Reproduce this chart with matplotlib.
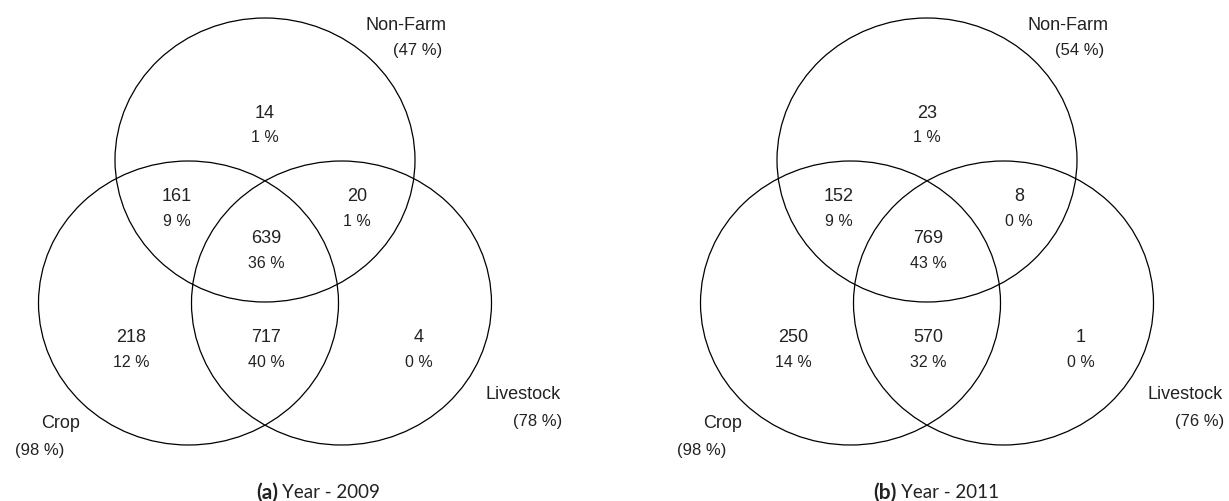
import matplotlib.pyplot as plt
from matplotlib.patches import Ellipse

# Region counts and shares for the three income sources
regions = ['nf_only', 'nf_crop', 'nf_live', 'all', 'crop_only', 'crop_live', 'live_only']

counts_2009 = [14, 161, 20, 639, 218, 717, 4]
shares_2009 = [1, 9, 1, 36, 12, 40, 0]
totals_2009 = {'Non-Farm': 47, 'Crop': 98, 'Livestock': 78}

counts_2011 = [23, 152, 8, 769, 250, 570, 1]
shares_2011 = [1, 9, 0, 43, 14, 32, 0]
totals_2011 = {'Non-Farm': 54, 'Crop': 98, 'Livestock': 76}

captions = [('(a)', 'Year - 2009'), ('(b)', 'Year - 2011')]

# Layout (pixel units, origin top-left)
W, H = 1229, 502
panel_cx = [265, 927]          # x of the top circle centre in each panel
caption_x = [282, 901]         # where "Year - ..." starts
rx, ry = 150, 142
ellipse_off = {'Non-Farm': (0, 0), 'Crop': (-76.5, 143), 'Livestock': (76.5, 143)}
top_cy = 161

region_off = {
    'nf_only': (0, 113),
    'nf_crop': (-88, 197),
    'nf_live': (92, 197),
    'all': (1, 239),
    'crop_only': (-134, 338),
    'crop_live': (1, 338),
    'live_only': (154, 338),
}
set_label_off = {
    'Non-Farm': ((141, 25), (153, 51)),
    'Crop': ((-204, 424), (-225, 451)),
    'Livestock': ((258, 395), (273, 422)),
}

TXT = '#222222'
NUM_FONT = ['Liberation Sans', 'DejaVu Sans']
PCT_FONT = ['Liberation Sans Narrow', 'Liberation Sans', 'DejaVu Sans']
CAP_FONT = ['Lato', 'DejaVu Sans']

fig = plt.figure(figsize=(W / 100, H / 100), dpi=100)
ax = fig.add_axes([0, 0, 1, 1])
ax.set_xlim(0, W)
ax.set_ylim(H, 0)
ax.axis('off')


def draw_venn(cx, counts, shares, totals):
    for name, (dx, dy) in ellipse_off.items():
        ax.add_patch(Ellipse((cx + dx, top_cy + dy), 2 * rx, 2 * ry,
                             fill=False, edgecolor='black', linewidth=0.9))
    for reg, n, p in zip(regions, counts, shares):
        dx, y = region_off[reg]
        ax.text(cx + dx, y, str(n), ha='center', va='center',
                fontsize=13, color=TXT, family=NUM_FONT)
        ax.text(cx + dx, y + 25, f'{p} %', ha='center', va='center',
                fontsize=11.5, color=TXT, family=PCT_FONT)
    for name, ((nx, ny), (px, py)) in set_label_off.items():
        ax.text(cx + nx, ny, name, ha='center', va='center',
                fontsize=13, color=TXT, family=NUM_FONT)
        ax.text(cx + px, py, f'({totals[name]} %)', ha='center', va='center',
                fontsize=12, color=TXT, family=NUM_FONT)


draw_venn(panel_cx[0], counts_2009, shares_2009, totals_2009)
draw_venn(panel_cx[1], counts_2011, shares_2011, totals_2011)

for (tag, year), x1 in zip(captions, caption_x):
    ax.text(x1 - 4, 493, tag, ha='right', va='center', fontsize=15,
            fontweight='bold', color=TXT, family=CAP_FONT)
    ax.text(x1, 493, year, ha='left', va='center', fontsize=13.5,
            color=TXT, family=CAP_FONT)

fig.savefig('out.png', dpi=100, facecolor='white')
